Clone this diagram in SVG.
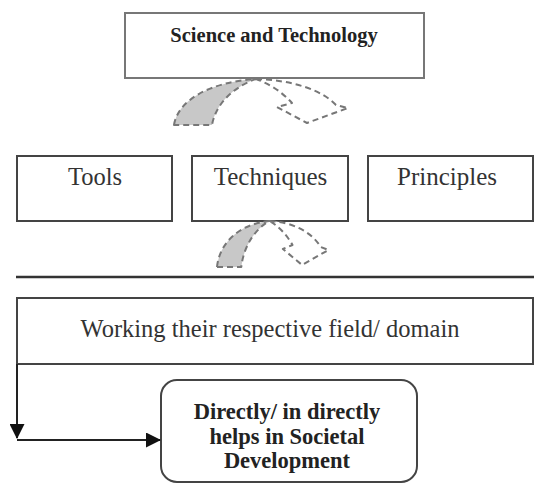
<svg xmlns="http://www.w3.org/2000/svg" width="534" height="484" viewBox="0 0 534 484">
<style>
.box{fill:#fff;stroke:#444;stroke-width:2}
.top{fill:#fff;stroke:#777;stroke-width:2}
.lbl{font-family:"Liberation Serif","Times New Roman",serif;fill:#333;text-anchor:middle}
.b{font-weight:bold;fill:#222}
.dash{stroke:#777;stroke-width:2;stroke-dasharray:6 4;stroke-linejoin:round}
.gray{fill:#c8c8c8}
.white{fill:#fff}
.conn{fill:none;stroke:#222;stroke-width:2}
</style>
<defs>
<marker id="ahv" markerWidth="15" markerHeight="15" refX="14" refY="7.5" orient="auto" markerUnits="userSpaceOnUse" viewBox="0 0 15 15">
<path d="M0,0 L15,7.5 L0,15 Z" fill="#111"/>
</marker>
</defs>

<g id="science">
<rect class="top" x="125" y="13" width="299" height="65"/>
<text class="lbl b" x="274" y="42" font-size="20.5">Science and Technology</text>
</g>

<g id="arrow1">
<path class="dash white" d="M256,79 C292,80 322,90 336,105 L348,108 L307,123 L277,107 L292,103 C282,92 270,84 256,79 Z"/>
<path class="dash gray" d="M174,125 C178,100 210,82 256,79 C236,86 216,102 212,125 Z"/>
</g>

<g id="tools">
<rect class="box" x="17" y="156" width="155" height="65"/>
<text class="lbl" x="95" y="185" font-size="24.5">Tools</text>
</g>
<g id="techniques">
<rect class="box" x="192" y="156" width="156" height="65"/>
<text class="lbl" x="270.5" y="185" font-size="25">Techniques</text>
</g>
<g id="principles">
<rect class="box" x="368" y="156" width="165" height="65"/>
<text class="lbl" x="447" y="185" font-size="25">Principles</text>
</g>

<g id="arrow2">
<path class="dash white" d="M269.5,221 C292.5,222 311.7,232 320.7,247 L328.4,250 L302.1,265 L282.9,249 L292.5,245 C286.1,234 278.4,226 269.5,221 Z"/>
<path class="dash gray" d="M217,267 C219.6,242 240,224 269.5,221 C256.7,228 243.9,244 241.3,267 Z"/>
</g>

<g id="divider">
<line x1="16" y1="277" x2="534" y2="277" stroke="#333" stroke-width="2.5"/>
</g>

<g id="working">
<rect class="box" x="17" y="298" width="516" height="66" stroke="#555"/>
<text class="lbl" x="270" y="337" font-size="24.5">Working their respective field/ domain</text>
</g>

<g id="societal">
<rect class="box" x="161" y="380" width="256" height="102" rx="16" ry="16"/>
<text class="lbl b" x="287" y="419" font-size="22.5">Directly/ in directly</text>
<text class="lbl b" x="287" y="444" font-size="22.5">helps in Societal</text>
<text class="lbl b" x="287" y="468" font-size="22.5">Development</text>
</g>

<g id="connectors">
<path class="conn" d="M17,364 V438" marker-end="url(#ahv)"/>
<path class="conn" d="M17,440 H160" marker-end="url(#ahv)"/>
</g>
</svg>
